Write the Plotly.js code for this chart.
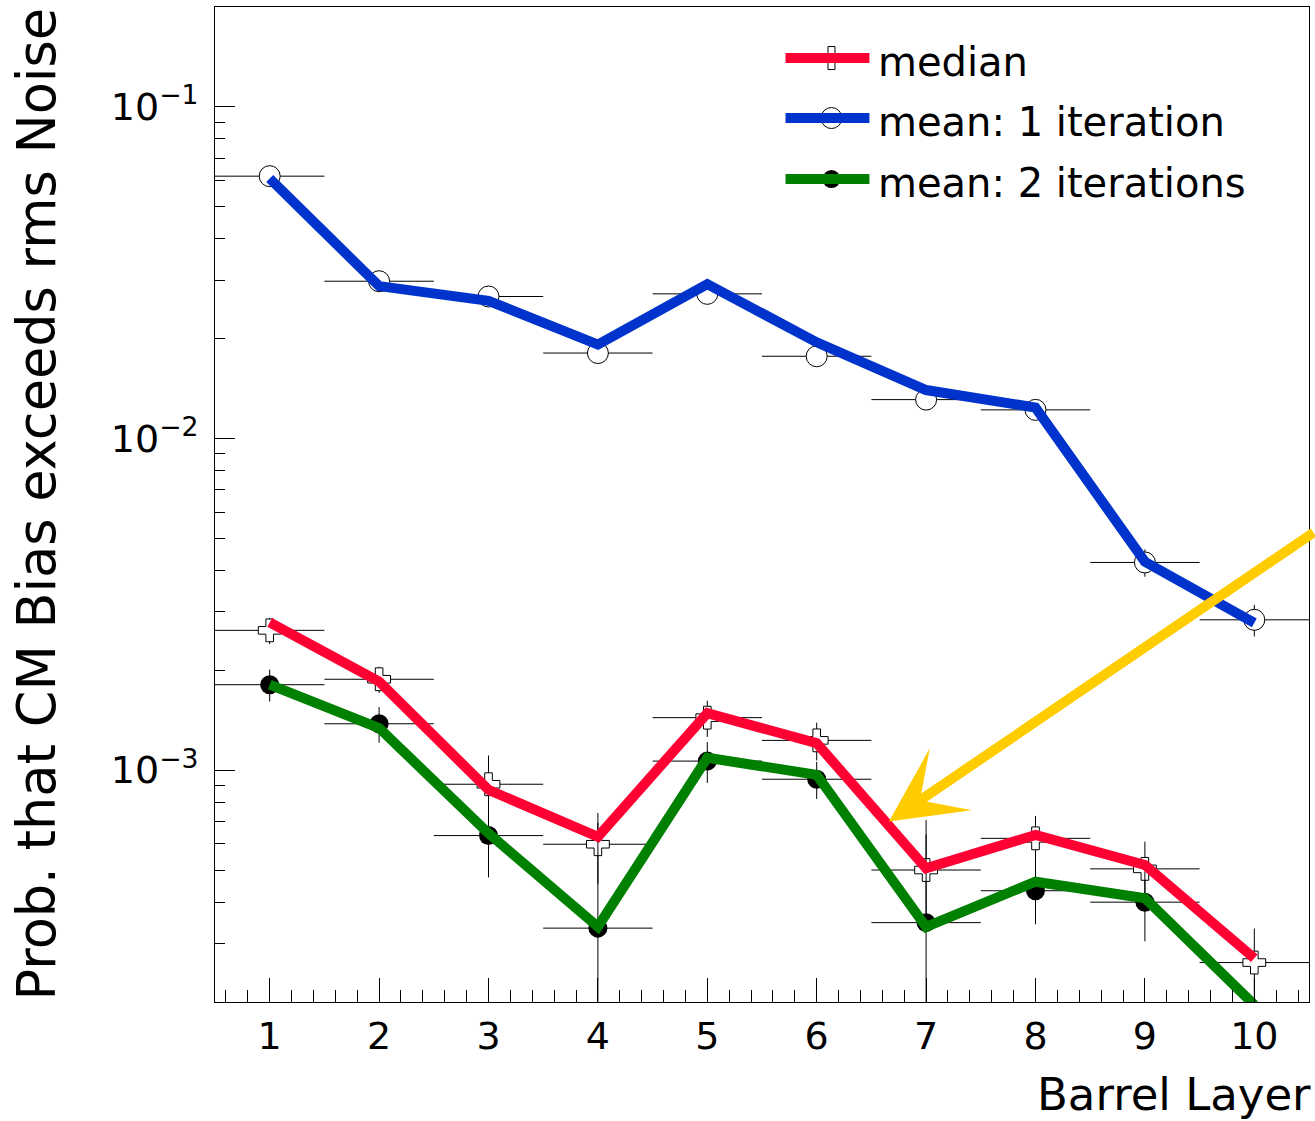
<!DOCTYPE html>
<html><head><meta charset="utf-8">
<script src="https://cdn.plot.ly/plotly-3.0.1.min.js"></script>
<style>html,body{margin:0;padding:0;background:#fff;} #chart{width:1315px;height:1121px;}</style>
</head><body><div id="chart"></div>
<script>
// ---- data ----
const layers = [1, 2, 3, 4, 5, 6, 7, 8, 9, 10];
const seriesNames = ['median', 'mean: 1 iteration', 'mean: 2 iterations'];

// histogram contents (markers + error bars)
const medianVals = [0.00264, 0.00188, 0.000907, 0.000598, 0.00144, 0.00123, 0.000500, 0.000623, 0.000504, 0.000263];
const medianErr  = [0.00024, 0.00017, 0.00020, 0.000145, 0.00018, 0.00016, 0.00014, 0.000105, 0.000105, 0.00007];
const mean1Vals  = [0.0618, 0.0298, 0.0268, 0.0181, 0.0273, 0.0177, 0.0131, 0.0122, 0.00423, 0.00284];
const mean1Err   = [0.0022, 0.0011, 0.0010, 0.0007, 0.0010, 0.0007, 0.0005, 0.0005, 0.0004, 0.00031];
const mean2Vals  = [0.00181, 0.00138, 0.000635, 0.000334, 0.001065, 0.000939, 0.000347, 0.000433, 0.000400, null];
const mean2Err   = [0.00020, 0.00017, 0.00016, 0.00036, 0.00015, 0.00012, 0.00036, 0.00009, 0.000095, null];

// hand-drawn thick overlay lines
const medianLine = [0.00279, 0.00185, 0.000872, 0.00063, 0.001486, 0.001206, 0.000506, 0.000638, 0.000518, 0.000271];
const mean1Line  = [0.0608, 0.0288, 0.0260, 0.0192, 0.0292, 0.0195, 0.0140, 0.0124, 0.00425, 0.00278];
const mean2Line  = [0.00181, 0.00134, 0.000645, 0.000337, 0.00109, 0.000968, 0.000337, 0.000461, 0.000411, 0.000196];

// y tick labels
const yTickVals = [0.001, 0.01, 0.1];
const yTickText = ['10<sup>\u22123</sup>', '10<sup>\u22122</sup>', '10<sup>\u22121</sup>'];

// arrow annotation target (layer, probability)
const arrowTarget = [6.66, 0.0007];

const xTitle = 'Barrel Layer';
const yTitle = 'Prob. that CM Bias exceeds rms Noise';

// ---- style ----
const FONT = 'DejaVu Sans';
const RED = '#ff0033', BLUE = '#0033cc', GREEN = '#008000', YELLOW = '#ffcc00';

function errX() { return {type: 'constant', value: 0.5, width: 0, thickness: 1, color: '#000'}; }
function errY(arr) { return {type: 'data', array: arr, symmetric: true, width: 0, thickness: 1, color: '#000'}; }

const traces = [
  {x: layers, y: mean1Vals, mode: 'markers', showlegend: false,
   marker: {symbol: 'circle', size: 21, color: '#fff', line: {color: '#000', width: 1}},
   error_x: errX(), error_y: errY(mean1Err)},
  {x: layers, y: medianVals, mode: 'markers', showlegend: false,
   marker: {symbol: 'cross', size: 19, color: '#fff', line: {color: '#000', width: 1}},
   error_x: errX(), error_y: errY(medianErr)},
  {x: layers, y: mean2Vals, mode: 'markers', showlegend: false,
   marker: {symbol: 'circle', size: 19, color: '#000', line: {color: '#000', width: 0}},
   error_x: errX(), error_y: errY(mean2Err)},
  {x: layers, y: mean1Line, mode: 'lines', showlegend: false, line: {color: BLUE, width: 10}},
  {x: layers, y: medianLine, mode: 'lines', showlegend: false, line: {color: RED, width: 10}},
  {x: layers, y: mean2Line, mode: 'lines', showlegend: false, line: {color: GREEN, width: 10}}
];

// minor log ticks
const minorY = [];
for (let d = -4; d <= -1; d++) for (let m = 2; m <= 9; m++) minorY.push(m * Math.pow(10, d));

// manual legend (ROOT-style)
const legX0 = 0.5215, legX1 = 0.5982, legMX = 0.5635, legTX = 0.6046;
const legRows = [0.9487, 0.8884, 0.8271];
const legColors = [RED, BLUE, GREEN];
const shapes = [];
const crossPath = 'M-3.5,-11.5 L3.5,-11.5 L3.5,-3.5 L11.5,-3.5 L11.5,3.5 L3.5,3.5 L3.5,11.5 L-3.5,11.5 L-3.5,3.5 L-11.5,3.5 L-11.5,-3.5 L-3.5,-3.5 Z';
shapes.push({type: 'path', xref: 'paper', yref: 'paper', xsizemode: 'pixel', ysizemode: 'pixel',
  xanchor: legMX, yanchor: legRows[0], path: crossPath, fillcolor: '#fff', line: {color: '#000', width: 1}});
shapes.push({type: 'circle', xref: 'paper', yref: 'paper', xsizemode: 'pixel', ysizemode: 'pixel',
  xanchor: legMX, yanchor: legRows[1], x0: -10.5, x1: 10.5, y0: -10.5, y1: 10.5, fillcolor: '#fff', line: {color: '#000', width: 1}});
shapes.push({type: 'circle', xref: 'paper', yref: 'paper', xsizemode: 'pixel', ysizemode: 'pixel',
  xanchor: legMX, yanchor: legRows[2], x0: -9, x1: 9, y0: -9, y1: 9, fillcolor: '#000', line: {color: '#000', width: 0}});
for (let i = 0; i < 3; i++) {
  shapes.push({type: 'line', xref: 'paper', yref: 'paper', x0: legX0, x1: legX1, y0: legRows[i], y1: legRows[i],
    line: {color: legColors[i], width: 10}});
}

const annotations = [];
for (let i = 0; i < 3; i++) {
  annotations.push({text: seriesNames[i], xref: 'paper', yref: 'paper', x: legTX, y: legRows[i],
    xanchor: 'left', yanchor: 'middle', yshift: -4, showarrow: false, font: {family: FONT, size: 40, color: '#000'}});
}
annotations.push({text: yTitle, xref: 'paper', yref: 'paper', x: 0, y: 0.5, xanchor: 'center', yanchor: 'middle',
  xshift: -179, textangle: -90, showarrow: false, font: {family: FONT, size: 52.5, color: '#000'}});
annotations.push({text: xTitle, xref: 'paper', yref: 'paper', x: 1, y: 0, xanchor: 'right', yanchor: 'middle',
  xshift: 4, yshift: -92, showarrow: false, font: {family: FONT, size: 45, color: '#000'}});
annotations.push({text: '', xref: 'x', yref: 'y', x: arrowTarget[0], y: Math.log10(arrowTarget[1]),
  showarrow: true, arrowhead: 3, arrowsize: 1.25, arrowwidth: 10, arrowcolor: YELLOW, standoff: 0,
  ax: 450, ay: -290});

const layout = {
  width: 1315, height: 1121,
  margin: {l: 215, r: 6, t: 7, b: 119},
  paper_bgcolor: '#fff', plot_bgcolor: '#fff',
  showlegend: false,
  font: {family: FONT, color: '#000'},
  xaxis: {range: [0.5, 10.5], tickmode: 'linear', tick0: 0, dtick: 1,
    ticks: 'inside', ticklen: 24, tickwidth: 1, tickcolor: '#000',
    showline: true, mirror: true, linecolor: '#000', linewidth: 1,
    showgrid: false, zeroline: false, ticklabelstandoff: 0,
    tickfont: {family: FONT, size: 38, color: '#000'},
    minor: {tickmode: 'linear', tick0: 0, dtick: 0.2, ticks: 'inside', ticklen: 12, tickwidth: 1, tickcolor: '#000', showgrid: false}},
  yaxis: {type: 'log', range: [Math.log10(2e-4), Math.log10(0.2)], tickmode: 'array',
    tickvals: yTickVals, ticktext: yTickText,
    ticks: 'inside', ticklen: 20, tickwidth: 1, tickcolor: '#000',
    showline: true, mirror: true, linecolor: '#000', linewidth: 1,
    showgrid: false, zeroline: false, ticklabelstandoff: 8,
    tickfont: {family: FONT, size: 38, color: '#000'},
    minor: {tickmode: 'array', tickvals: minorY, ticks: 'inside', ticklen: 10, tickwidth: 1, tickcolor: '#000', showgrid: false}},
  shapes: shapes,
  annotations: annotations
};

Plotly.newPlot('chart', traces, layout, {staticPlot: true, displayModeBar: false});
</script>
</body></html>
